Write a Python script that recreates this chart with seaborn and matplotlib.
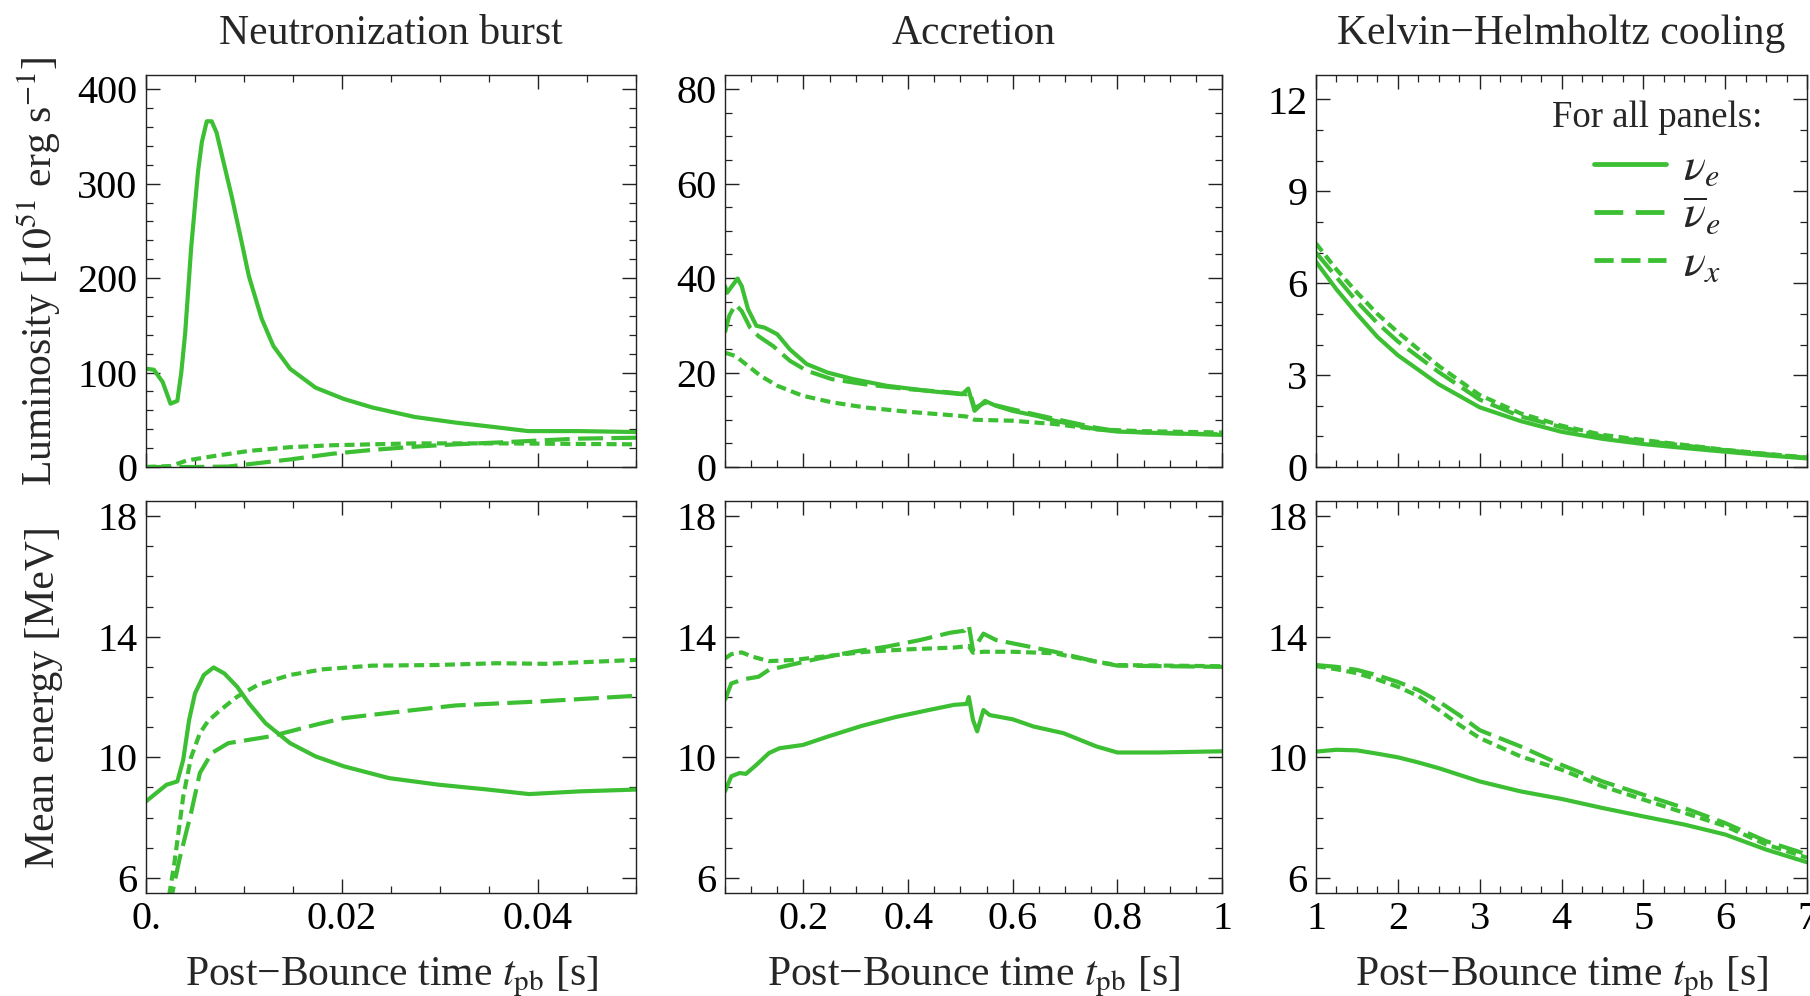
import matplotlib
matplotlib.use("Agg")
import matplotlib.pyplot as plt
from matplotlib.lines import Line2D
from matplotlib.ticker import MultipleLocator
import seaborn as sns

# ---- data ----
# neutronization burst, luminosity [1e51 erg/s]
burst_lum_e_t = [0, 0.0008, 0.0017, 0.0025, 0.0032, 0.0036, 0.004, 0.0046, 0.0053, 0.0057, 0.0062, 0.0067,
                 0.0072, 0.008, 0.0088, 0.0097, 0.0105, 0.0118, 0.013, 0.0147, 0.0173, 0.0202, 0.0231, 0.0274,
                 0.0316, 0.0358, 0.039, 0.0442, 0.05]
burst_lum_e = [104, 103, 90, 67, 70, 100, 142, 231, 312, 344, 366, 366, 354, 319, 284, 241, 202, 157, 128, 104,
               84, 72, 63, 53, 47, 42, 38, 38, 37]
burst_lum_eb_t = [0, 0.005, 0.0084, 0.0105, 0.0147, 0.019, 0.023, 0.0274, 0.0316, 0.036, 0.04, 0.044, 0.05]
burst_lum_eb = [0, 0, 0.5, 3, 8, 14, 18, 21.5, 24, 26, 28, 30, 31]
burst_lum_x_t = [0, 0.0025, 0.0042, 0.0072, 0.0105, 0.0147, 0.019, 0.0231, 0.0274, 0.036, 0.05]
burst_lum_x = [0, 1, 7, 12, 17, 21, 23, 24, 25, 25, 24]

# accretion, luminosity
accr_lum_e_t = [0.05, 0.054, 0.066, 0.074, 0.082, 0.094, 0.11, 0.126, 0.15, 0.174, 0.206, 0.246, 0.295, 0.359,
                0.439, 0.503, 0.515, 0.527, 0.547, 0.567, 0.599, 0.647, 0.68, 0.76, 0.8, 0.88, 1.0]
accr_lum_e = [38.3, 36.9, 38.7, 39.9, 38.3, 33.4, 29.9, 29.5, 28.1, 24.9, 21.8, 20.0, 18.6, 17.2, 16.1, 15.4,
              16.6, 11.9, 14.0, 13.0, 11.9, 10.8, 9.8, 8.0, 7.5, 7.2, 6.8]
accr_lum_eb_t = [0.05, 0.058, 0.07, 0.082, 0.098, 0.114, 0.142, 0.174, 0.206, 0.254, 0.318, 0.399, 0.479, 0.511,
                 0.518, 0.527, 0.547, 0.6, 0.68, 0.76, 0.8, 0.88, 1.0]
accr_lum_eb = [28.5, 32, 34.4, 33, 29.5, 27.7, 25.6, 22.5, 20.4, 18.6, 17.5, 16.5, 15.8, 15.4, 15.8, 12.5, 13.6,
               12.2, 10.2, 8.3, 7.6, 7.2, 6.9]
accr_lum_x_t = [0.05, 0.07, 0.094, 0.118, 0.15, 0.198, 0.254, 0.318, 0.399, 0.479, 0.511, 0.527, 0.599, 0.68,
                0.76, 0.84, 1.0]
accr_lum_x = [24.2, 23.5, 21.4, 19.3, 17.2, 15.1, 13.7, 12.6, 11.7, 11.0, 10.7, 10.0, 9.8, 9.1, 8.0, 7.6, 7.3]

# Kelvin-Helmholtz cooling, luminosity
cool_t = [1, 1.25, 1.5, 1.75, 2, 2.5, 3, 3.5, 4, 4.5, 5, 5.5, 6, 6.5, 7]
cool_lum_e = [6.7, 5.8, 5.0, 4.25, 3.65, 2.7, 1.95, 1.5, 1.15, 0.92, 0.75, 0.62, 0.5, 0.38, 0.28]
cool_lum_eb = [7.0, 6.2, 5.4, 4.7, 4.1, 3.1, 2.2, 1.65, 1.3, 1.0, 0.85, 0.7, 0.55, 0.42, 0.3]
cool_lum_x = [7.3, 6.45, 5.7, 5.0, 4.4, 3.3, 2.35, 1.75, 1.35, 1.05, 0.88, 0.72, 0.56, 0.43, 0.31]

# neutronization burst, mean energy [MeV]
burst_en_e_t = [0, 0.0021, 0.0032, 0.0038, 0.0044, 0.005, 0.0059, 0.0069, 0.008, 0.0093, 0.0105, 0.0122, 0.0147,
                0.0173, 0.0202, 0.0248, 0.0299, 0.0349, 0.0391, 0.0442, 0.05]
burst_en_e = [8.54, 9.09, 9.2, 9.92, 11.24, 12.12, 12.73, 12.98, 12.78, 12.34, 11.79, 11.13, 10.47, 10.03, 9.7,
              9.31, 9.09, 8.93, 8.78, 8.87, 8.93]
burst_en_eb_t = [0.0023, 0.0034, 0.0046, 0.0055, 0.0067, 0.0084, 0.0105, 0.0126, 0.0147, 0.0173, 0.0202, 0.0231,
                 0.0274, 0.0316, 0.04, 0.05]
burst_en_eb = [4.9, 6.6, 8.16, 9.48, 10.14, 10.47, 10.58, 10.69, 10.86, 11.08, 11.3, 11.41, 11.57, 11.72, 11.85,
               12.04]
burst_en_x_t = [0.0021, 0.0029, 0.0038, 0.0046, 0.0055, 0.0063, 0.0076, 0.0093, 0.0114, 0.0147, 0.0181, 0.0231,
                0.0295, 0.0358, 0.0408, 0.05]
burst_en_x = [4.9, 6.5, 8.7, 10.0, 10.8, 11.19, 11.57, 12.01, 12.4, 12.73, 12.92, 13.04, 13.06, 13.12, 13.1, 13.23]

# accretion, mean energy
accr_en_e_t = [0.05, 0.062, 0.078, 0.09, 0.11, 0.134, 0.154, 0.199, 0.247, 0.311, 0.375, 0.44, 0.488, 0.512,
               0.516, 0.524, 0.532, 0.544, 0.556, 0.6, 0.64, 0.697, 0.76, 0.8, 0.88, 1.0]
accr_en_e = [8.87, 9.37, 9.48, 9.45, 9.75, 10.14, 10.3, 10.41, 10.69, 11.04, 11.33, 11.57, 11.74, 11.77, 12.0,
             11.24, 10.86, 11.57, 11.4, 11.26, 11.02, 10.8, 10.36, 10.16, 10.16, 10.2]
accr_en_eb_t = [0.05, 0.062, 0.086, 0.114, 0.134, 0.174, 0.23, 0.295, 0.359, 0.423, 0.48, 0.508, 0.516, 0.524,
                0.544, 0.568, 0.6, 0.68, 0.76, 0.8, 1.0]
accr_en_eb = [11.9, 12.45, 12.59, 12.67, 12.9, 13.06, 13.28, 13.5, 13.67, 13.89, 14.13, 14.2, 14.38, 13.56, 14.1,
              13.89, 13.78, 13.5, 13.17, 13.04, 13.0]
accr_en_x_t = [0.05, 0.062, 0.082, 0.102, 0.134, 0.182, 0.247, 0.319, 0.399, 0.488, 0.516, 0.524, 0.544, 0.6,
               0.68, 0.76, 0.8, 1.0]
accr_en_x = [13.28, 13.42, 13.48, 13.34, 13.19, 13.23, 13.36, 13.5, 13.58, 13.64, 13.69, 13.47, 13.5, 13.5,
             13.45, 13.17, 13.06, 13.02]

# Kelvin-Helmholtz cooling, mean energy
cool_en_t = [1, 1.25, 1.5, 1.75, 2, 2.25, 2.5, 2.75, 3, 3.5, 4, 4.5, 5, 5.5, 6, 6.5, 7]
cool_en_e = [10.19, 10.25, 10.23, 10.12, 10.0, 9.83, 9.64, 9.42, 9.2, 8.87, 8.62, 8.32, 8.04, 7.77, 7.44, 6.94,
             6.52]
cool_en_eb = [13.06, 13.0, 12.9, 12.72, 12.5, 12.23, 11.85, 11.4, 10.9, 10.36, 9.75, 9.2, 8.76, 8.32, 7.82, 7.22,
              6.78]
cool_en_x = [13.03, 12.92, 12.79, 12.58, 12.34, 12.03, 11.57, 11.08, 10.64, 10.03, 9.59, 9.04, 8.6, 8.16, 7.72,
             7.11, 6.67]

titles = ["Neutronization burst", "Accretion", "Kelvin\u2212Helmholtz cooling"]
flavour_labels = [r"$\nu_e$", r"$\overline{\nu}_e$", r"$\nu_x$"]
xticks = [[0, 0.02, 0.04], [0.2, 0.4, 0.6, 0.8, 1.0], [1, 2, 3, 4, 5, 6, 7]]
xtick_labels = [["0.", "0.02", "0.04"], ["0.2", "0.4", "0.6", "0.8", "1"], ["1", "2", "3", "4", "5", "6", "7"]]
top_yticks = [[0, 100, 200, 300, 400], [0, 20, 40, 60, 80], [0, 3, 6, 9, 12]]
energy_yticks = [6, 10, 14, 18]

# ---- style ----
sns.set_theme(style="ticks")
plt.rcParams["font.family"] = ["Liberation Serif", "DejaVu Serif"]
plt.rcParams["mathtext.fontset"] = "stix"
plt.rcParams["axes.edgecolor"] = "#222222"
plt.rcParams["axes.linewidth"] = 1.0

GREEN = "#3cbf33"
LW = 3.0
STYLES = ["-", (0, (6, 2)), (0, (2.4, 1.3))]
TICK_FS = 29
LABEL_FS = 30

fig = plt.figure(figsize=(18.1, 9.96), dpi=100)

col_left = [146 / 1810, 725 / 1810, 1316 / 1810]
col_width = [490 / 1810, 497 / 1810, 491 / 1810]
row_bottom = [1 - 467 / 996, 1 - 893 / 996]
row_height = 392 / 996

xlims = [(0, 0.05), (0.05, 1.0), (1, 7)]
x_minor = [0.005, 0.05, 0.25]
top_ylims = [(0, 415), (0, 83), (0, 12.8)]
top_minor = [20, 5, 1]

lum_series = [
    [(burst_lum_e_t, burst_lum_e), (burst_lum_eb_t, burst_lum_eb), (burst_lum_x_t, burst_lum_x)],
    [(accr_lum_e_t, accr_lum_e), (accr_lum_eb_t, accr_lum_eb), (accr_lum_x_t, accr_lum_x)],
    [(cool_t, cool_lum_e), (cool_t, cool_lum_eb), (cool_t, cool_lum_x)],
]
en_series = [
    [(burst_en_e_t, burst_en_e), (burst_en_eb_t, burst_en_eb), (burst_en_x_t, burst_en_x)],
    [(accr_en_e_t, accr_en_e), (accr_en_eb_t, accr_en_eb), (accr_en_x_t, accr_en_x)],
    [(cool_en_t, cool_en_e), (cool_en_t, cool_en_eb), (cool_en_t, cool_en_x)],
]


def style_axis(ax, col, yticks, ymin, show_x):
    ax.set_xlim(*xlims[col])
    ax.xaxis.set_minor_locator(MultipleLocator(x_minor[col]))
    ax.set_yticks(yticks, [str(v) for v in yticks])
    ax.yaxis.set_minor_locator(MultipleLocator(ymin))
    if show_x:
        ax.set_xticks(xticks[col], xtick_labels[col])
    else:
        ax.set_xticks(xticks[col], [])
    ax.tick_params(which="both", direction="in", top=True, right=True, colors="#222222",
                   labelcolor="black", labelsize=TICK_FS, pad=6)
    ax.tick_params(which="major", length=10, width=1.0)
    ax.tick_params(which="minor", length=5, width=0.9)
    ax.set_xlabel("")
    ax.set_ylabel("")


for col in range(3):
    ax = fig.add_axes([col_left[col], row_bottom[0], col_width[col], row_height])
    for k, (t, y) in enumerate(lum_series[col]):
        sns.lineplot(x=t, y=y, ax=ax, color=GREEN, linewidth=LW, linestyle=STYLES[k],
                     sort=False, estimator=None)
    style_axis(ax, col, top_yticks[col], top_minor[col], show_x=False)
    ax.set_ylim(*top_ylims[col])
    ax.set_title(titles[col], fontsize=LABEL_FS, pad=22)
    if col == 0:
        ax.set_ylabel(r"Luminosity [$10^{51}$ erg s$^{-1}$]", fontsize=LABEL_FS)
        ax.yaxis.set_label_coords(-0.17, 0.5)
    if col == 2:
        ax.text(0.695, 0.89, "For all panels:", transform=ax.transAxes, ha="center", va="center",
                fontsize=26.5)
        handles = [
            Line2D([], [], color=GREEN, lw=LW * 1.15, linestyle="-"),
            Line2D([], [], color=GREEN, lw=LW * 1.15, linestyle=(0, (6.0, 2.6))),
            Line2D([], [], color=GREEN, lw=LW * 1.15, linestyle=(0, (4.0, 1.6))),
        ]
        ax.legend(handles, flavour_labels, loc="upper center",
                  bbox_to_anchor=(0.695, 0.815), frameon=False, fontsize=33,
                  borderpad=0, borderaxespad=0,
                  handlelength=1.57, handletextpad=0.37, labelspacing=0.12)

    ax2 = fig.add_axes([col_left[col], row_bottom[1], col_width[col], row_height])
    for k, (t, y) in enumerate(en_series[col]):
        sns.lineplot(x=t, y=y, ax=ax2, color=GREEN, linewidth=LW, linestyle=STYLES[k],
                     sort=False, estimator=None)
    style_axis(ax2, col, energy_yticks, 1, show_x=True)
    ax2.set_ylim(5.5, 18.5)
    ax2.set_xlabel("Post\u2212Bounce time $t_{\\mathrm{pb}}$ [s]", fontsize=LABEL_FS, labelpad=12)
    if col == 0:
        ax2.set_ylabel("Mean energy [MeV]", fontsize=LABEL_FS)
        ax2.yaxis.set_label_coords(-0.17, 0.5)

fig.savefig("out.png", dpi=100)
